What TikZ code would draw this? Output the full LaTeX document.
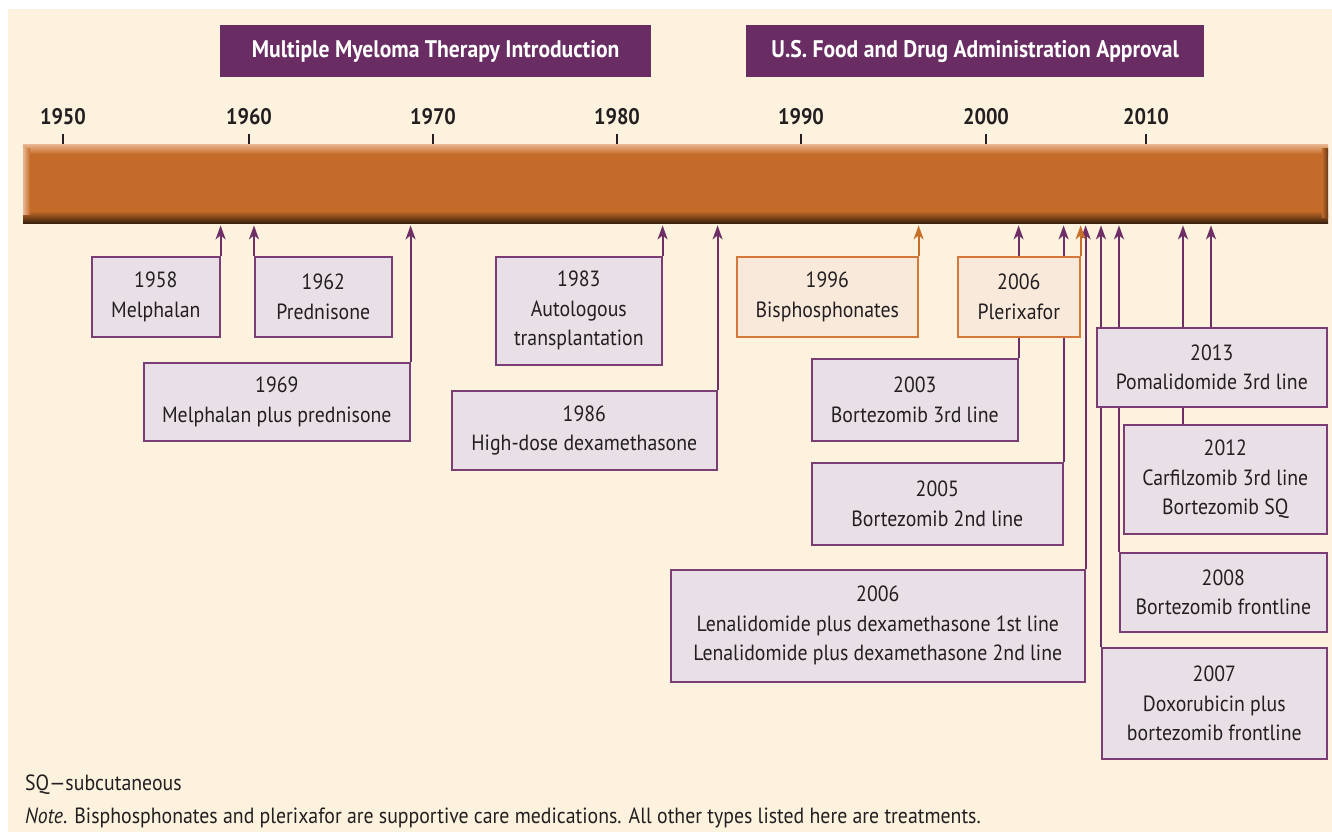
\documentclass[tikz,border=0pt]{standalone}
\usepackage{fontspec}
\setmainfont{PT Sans}[FakeStretch=0.9]
\usetikzlibrary{arrows.meta}
\pgfdeclarelayer{bgl}
\pgfdeclarelayer{conn}
\pgfsetlayers{bgl,conn,main}
\definecolor{bgc}{HTML}{FCF2DE}
\definecolor{hdrc}{HTML}{6A2D63}
\definecolor{boxfillc}{HTML}{E8E0E6}
\definecolor{boxlinec}{HTML}{7B3E74}
\definecolor{orlinec}{HTML}{D4793A}
\definecolor{orfillc}{HTML}{F9E9DA}
\definecolor{arrpc}{HTML}{6D2F66}
\definecolor{arroc}{HTML}{C8702A}
\definecolor{txtc}{HTML}{231F20}
\definecolor{barc}{HTML}{C56B29}
\definecolor{barlight}{HTML}{E9B892}
\definecolor{bardark}{HTML}{3D220E}
\newcommand\boxfont{\fontsize{22}{29.5}\selectfont}
\newcommand\yearfont{\fontsize{22.5}{24}\selectfont\bfseries}
\newcommand\hdrfont{\fontsize{24}{26}\selectfont\bfseries}
\newcommand\notefont{\fontsize{22}{24}\selectfont}
\begin{document}
\begin{tikzpicture}[x=1pt,y=-1pt,
  box/.style={draw=boxlinec, fill=boxfillc, line width=1.6pt, align=center, inner sep=0pt,
    font=\boxfont, text=txtc, anchor=north west},
  obox/.style={box, draw=orlinec, fill=orfillc},
  hdr/.style={fill=hdrc, text=white, font=\hdrfont, inner sep=0pt, anchor=north west},
  yearlbl/.style={font=\yearfont, text=txtc, inner sep=0pt},
  tickmark/.style={draw=txtc, line width=1.6pt},
  parr/.style={draw=arrpc, line width=1.8pt, -{Stealth[length=14pt,width=10pt,inset=4pt]}, shorten >=2pt},
  oarr/.style={parr, draw=arroc},
  note/.style={font=\notefont, text=txtc, inner sep=0pt, anchor=west}]
\useasboundingbox (0,0) rectangle (1332,832);
\begin{pgfonlayer}{bgl}
\fill[white] (0,0) rectangle (1332,832);
\fill[bgc] (8,9) rectangle (1332,832);
\end{pgfonlayer}
% headers
\node[hdr, minimum width=431pt, minimum height=52pt] (h1) at (220,25) {Multiple Myeloma Therapy Introduction};
\node[hdr, minimum width=458pt, minimum height=52pt] (h2) at (746,25) {U.S. Food and Drug Administration Approval};
% bar
\node[minimum width=1305pt, minimum height=79pt, inner sep=0pt, anchor=north west] (bar) at (23,144) {};
\fill[barc] (bar.north west) rectangle (bar.south east);
\shade[top color=barlight, bottom color=barc] (23,144) rectangle (1328,154);
\shade[top color=barc, bottom color=bardark] (23,211) rectangle (1328,223);
\shade[left color=barlight, right color=barc] (23,148) rectangle (30,214);
\shade[left color=barc, right color=bardark!70!barc] (1322,148) rectangle (1328,217);
% years and ticks
\foreach \yr/\xx in {1950/63,1960/249,1970/433,1980/617,1990/801,2000/986,2010/1146}{
  \node[yearlbl] (y\yr) at (\xx,117) {\yr};
  \draw[tickmark] (y\yr.south |- 134,134) -- (y\yr.south |- bar.north);
}
% boxes
\node[box, minimum width=128pt, minimum height=80pt] (b1958) at (91,256) {1958\\Melphalan};
\node[box, minimum width=137pt, minimum height=80pt] (b1962) at (254,256) {1962\\Prednisone};
\node[box, minimum width=266pt, minimum height=78pt] (b1969) at (143,362) {1969\\Melphalan plus prednisone};
\node[box, minimum width=166pt, minimum height=108pt] (b1983) at (495,256) {1983\\Autologous\\transplantation};
\node[box, minimum width=265pt, minimum height=79pt] (b1986) at (451,390) {1986\\High-dose dexamethasone};
\node[obox, minimum width=181pt, minimum height=80pt] (b1996) at (736,256) {1996\\Bisphosphonates};
\node[obox, minimum width=122pt, minimum height=80pt] (b2006p) at (957,256) {2006\\Plerixafor};
\node[box, minimum width=206pt, minimum height=82pt] (b2003) at (811,358) {2003\\Bortezomib 3rd line};
\node[box, minimum width=251pt, minimum height=82pt] (b2005) at (811,462) {2005\\Bortezomib 2nd line};
\node[box, minimum width=414pt, minimum height=112pt] (b2006l) at (670,569) {2006\\Lenalidomide plus dexamethasone 1st line\\Lenalidomide plus dexamethasone 2nd line};
\node[box, minimum width=225pt, minimum height=111pt] (b2007) at (1101,647) {2007\\Doxorubicin plus\\bortezomib frontline};
\node[box, minimum width=207pt, minimum height=79pt] (b2008) at (1119,552) {2008\\Bortezomib frontline};
\node[box, minimum width=203pt, minimum height=109pt] (b2012) at (1123,424) {2012\\Carfilzomib 3rd line\\Bortezomib SQ};
\node[box, minimum width=230pt, minimum height=79pt] (b2013) at (1096,327) {2013\\Pomalidomide 3rd line};
% connectors
\begin{pgfonlayer}{conn}
\draw[parr] (b1958.north east) -- (b1958.north east |- bar.south);
\draw[parr] (b1962.north west) -- (b1962.north west |- bar.south);
\draw[parr] (b1969.north east) -- (b1969.north east |- bar.south);
\draw[parr] (b1983.north east) -- (b1983.north east |- bar.south);
\draw[parr] (b1986.north east) -- (b1986.north east |- bar.south);
\draw[oarr] (b1996.north east) -- (b1996.north east |- bar.south);
\draw[parr] (b2003.north east) -- (b2003.north east |- bar.south);
\draw[parr] (b2005.north east) -- (b2005.north east |- bar.south);
\draw[parr] (b2006l.north east) -- (b2006l.north east |- bar.south);
\draw[parr] (b2007.north west) -- (b2007.north west |- bar.south);
\draw[parr] (b2008.north west) -- (b2008.north west |- bar.south);
\coordinate (c2012) at ([xshift=60pt]b2012.north west);
\draw[parr] (c2012) -- (c2012 |- bar.south);
\coordinate (c2013) at ([xshift=115pt]b2013.north west);
\draw[parr] (c2013) -- (c2013 |- bar.south);
\end{pgfonlayer}
\draw[oarr] (b2006p.north east) -- (b2006p.north east |- bar.south);
% notes
\node[note] (n1) at (25,785) {SQ—subcutaneous};
\node[note] (n2) at (25,818) {\textit{Note}. Bisphosphonates and plerixafor are supportive care medications. All other types listed here are treatments.};
\end{tikzpicture}
\end{document}
